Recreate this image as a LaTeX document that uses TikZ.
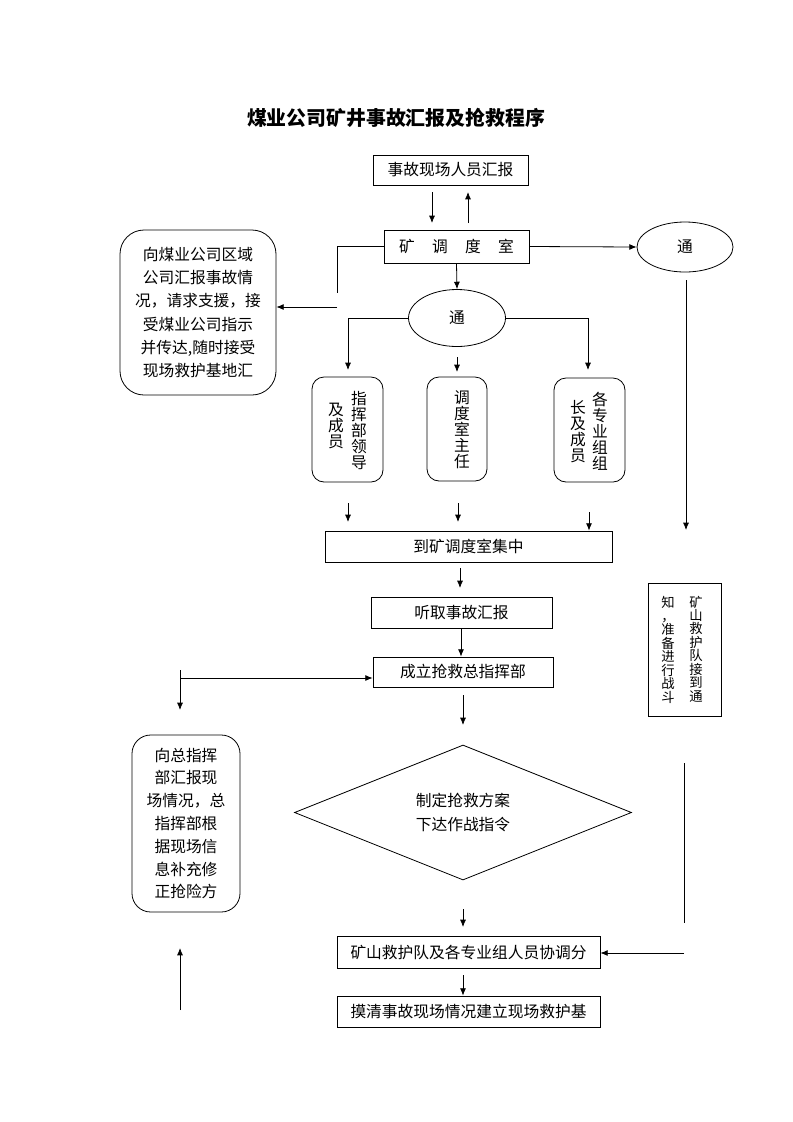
\documentclass[tikz,border=0pt]{standalone}
\usepackage{fontspec}
\newfontfamily\cjk{Noto Sans CJK SC}
\usetikzlibrary{arrows.meta,shapes}

\tikzset{
  wh/.style 2 args={minimum width=#1*0.75pt, minimum height=#2*0.75pt},
  box/.style={draw, rectangle, inner sep=0pt},
  rbox/.style={draw, rectangle, rounded corners=#1, inner sep=0pt},
  arr/.style={-{Latex[length=5.5pt,width=4.5pt]}, line width=0.6pt},
  ln/.style={line width=0.6pt},
  txt/.style={font=\cjk\fontsize{11.8}{17.3}\selectfont, align=center},
  vtxt/.style={font=\cjk\fontsize{11.8}{12}\selectfont, align=center, inner sep=0pt},
  vsmall/.style={font=\cjk\fontsize{10}{10.1}\selectfont, align=center, inner sep=0pt},
}

\begin{document}
\begin{tikzpicture}[x=0.75pt, y=-0.75pt, line width=0.6pt]
\useasboundingbox (0,0) rectangle (793,1122);

% title
\node[font=\cjk\bfseries\fontsize{14.9}{18}\selectfont] (title) at (396,118) {煤业公司矿井事故汇报及抢救程序};

% top part
\node[box, wh={155}{30}, txt] (report) at (450.5,170) {事故现场人员汇报};
\node[box, wh={145}{33}, txt] (disp) at (456.5,246.5) {矿\hspace{1.1em}调\hspace{1.1em}度\hspace{1.1em}室};
\node[rbox=18pt, wh={156}{165}, txt] (region) at (198,312.5) {向煤业公司区域\\公司汇报事故情\\况，请求支援，接\\受煤业公司指示\\并传达,随时接受\\现场救护基地汇};
\node[draw, ellipse, inner sep=0pt, wh={96}{50}, txt] (notifyR) at (685,247) {通};
\node[draw, ellipse, inner sep=0pt, wh={97}{57}, txt] (notifyM) at (457,318) {通};

\coordinate (d1) at (432,192); \coordinate (d2) at (432,223);
\coordinate (u1) at (468,223); \coordinate (u2) at (468,192);
\draw[arr] (d1) -- (d2);
\draw[arr] (u1) -- (u2);
\draw[arr] (disp.east) -- (notifyR.west);
\draw[arr] (disp.south) -- (notifyM.north);
\coordinate (lt1) at (337,293); \coordinate (lt2) at (337,307);
\draw[ln] (disp.west) -| (lt1);
\draw[arr] (lt2) -- (lt2 -| region.east);

% three groups
\node[rbox=9pt, wh={71}{105}] (cmd) at (347.5,429.5) {};
\node[vtxt] (cmdA) at (359,430) {指\\挥\\部\\领\\导};
\node[vtxt] (cmdB) at (336,426) {及\\成\\员};
\node[rbox=9pt, wh={60}{104}] (chief) at (457,429) {};
\node[vtxt] (chiefA) at (462,430) {调\\度\\室\\主\\任};
\node[rbox=9pt, wh={71}{104}] (team) at (589.5,430) {};
\node[vtxt] (teamA) at (600,431) {各\\专\\业\\组\\组};
\node[vtxt] (teamB) at (578,432) {长\\及\\成\\员};

\coordinate (c1) at (348,370); \coordinate (c3) at (588,370);
\coordinate (m1) at (457,357); \coordinate (m2) at (457,372);
\draw[arr] (notifyM.west) -| (c1);
\draw[arr] (notifyM.east) -| (c3);
\draw[arr] (m1) -- (m2);

\node[box, wh={287}{31}, txt] (gather) at (468.5,546.5) {到矿调度室集中};
\coordinate (g1) at (348,503); \coordinate (g2) at (348,522);
\coordinate (g3) at (458,503); \coordinate (g4) at (458,522);
\coordinate (g5) at (589,512);
\draw[arr] (g1) -- (g2);
\draw[arr] (g3) -- (g4);
\draw[arr] (g5) -- (g5 |- gather.north);

% right branch
\node[box, wh={73}{133}] (rescue) at (684.5,649.5) {};
\node[vsmall] (rescueA) at (696,649) {矿\\山\\救\\护\\队\\接\\到\\通};
\node[vsmall] (rescueB) at (668,650) {知\\，\\准\\备\\进\\行\\战\\斗};
\coordinate (r1) at (686,280); \coordinate (r2) at (686,530);
\draw[arr] (r1) -- (r2);

% middle chain
\node[box, wh={181}{31}, txt] (listen) at (461.5,612.5) {听取事故汇报};
\node[box, wh={180}{30}, txt] (found) at (463,672) {成立抢救总指挥部};
\coordinate (s1) at (460,568); \coordinate (s2) at (460,588);
\draw[arr] (s1) -- (s2);
\draw[arr] (listen.south -| 461,0) -- (found.north -| 461,0);
\coordinate (lf1) at (180,670); \coordinate (lf2) at (180,710);
\coordinate (lf3) at (180,678);
\draw[arr] (lf1) -- (lf2);
\draw[arr] (lf3) -- (lf3 -| found.west);

\node[draw, diamond, inner sep=0pt, wh={337}{135}, txt, font=\cjk\fontsize{11.8}{18}\selectfont] (plan) at (463,812.5) {制定抢救方案\\下达作战指令};
\coordinate (p1) at (463,695); \coordinate (p2) at (463,725);
\draw[arr] (p1) -- (p2);

\node[rbox=14pt, wh={108}{177}, txt, font=\cjk\fontsize{11.8}{17.1}\selectfont] (report2) at (186,823.5) {向总指挥\\部汇报现\\场情况，总\\指挥部根\\据现场信\\息补充修\\正抢险方};

% bottom
\node[box, wh={263}{32}, txt] (coord) at (468.5,952) {矿山救护队及各专业组人员协调分};
\node[box, wh={263}{31}, txt] (base) at (468.5,1011.5) {摸清事故现场情况建立现场救护基};
\coordinate (q1) at (463,909); \coordinate (q2) at (463,927);
\draw[arr] (q1) -- (q2);
\coordinate (q3) at (463,975);
\draw[arr] (q3) -- (q3 |- base.north);
\coordinate (rb1) at (684,763); \coordinate (rb2) at (684,923);
\coordinate (rb3) at (684,953);
\draw[ln] (rb1) -- (rb2);
\draw[arr] (rb3) -- (rb3 -| coord.east);
\coordinate (up1) at (180,1010); \coordinate (up2) at (180,948);
\draw[arr] (up1) -- (up2);
\end{tikzpicture}
\end{document}
